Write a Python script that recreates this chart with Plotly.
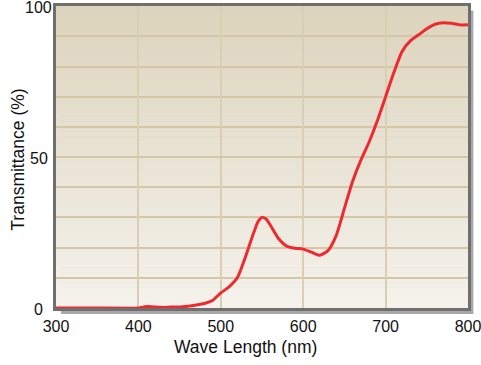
import plotly.graph_objects as go

wavelength = [300, 350, 400, 410, 420, 430, 440, 450, 460, 470, 480, 490, 500, 510, 520,
              530, 540, 545, 550, 555, 560, 570, 580, 590, 600, 610, 620, 630, 640, 650,
              660, 670, 680, 690, 700, 710, 720, 730, 740, 750, 760, 770, 780, 790, 800]
transmittance = [0, 0, 0, 0.5, 0.3, 0.2, 0.3, 0.3, 0.6, 1, 1.5, 2.5, 5, 7, 10,
                 17, 25, 28.5, 30, 29.5, 27.5, 23, 20.5, 19.8, 19.5, 18.5, 17.5, 19, 24, 33,
                 42, 49, 55, 62, 70, 78, 85, 88.5, 90.5, 92.5, 94, 94.5, 94.3, 93.8, 93.8]
x_ticks = [300, 400, 500, 600, 700, 800]
y_ticks = [0, 50, 100]
x_title = "Wave Length (nm)"
y_title = "Transmittance (%)"

fig = go.Figure()
fig.add_trace(go.Scatter(x=wavelength, y=transmittance, mode="lines",
                         line=dict(color="#ee2a30", width=3, shape="spline", smoothing=0.6),
                         hoverinfo="skip", showlegend=False))

shapes = []
# drop shadow
shapes.append(dict(type="rect", xref="paper", yref="paper", x0=0.012, x1=1.013, y0=-0.02, y1=0.985,
                   fillcolor="#a8a8a8", line=dict(width=0), layer="below"))
# vertical gradient background
n = 60
top = (221, 212, 189)
bot = (245, 242, 236)
for i in range(n):
    t = i / (n - 1)
    c = tuple(round(bot[k] + (top[k] - bot[k]) * t) for k in range(3))
    shapes.append(dict(type="rect", xref="paper", yref="paper", x0=0, x1=1,
                       y0=i / n, y1=(i + 1) / n + 0.002,
                       fillcolor="rgb(%d,%d,%d)" % c, line=dict(width=0), layer="below"))

annotations = [
    dict(text=x_title, xref="paper", yref="paper", x=0.46, y=-0.13,
         xanchor="center", yanchor="middle", showarrow=False, font=dict(size=17.5)),
    dict(text=y_title, xref="paper", yref="paper", x=-0.093, y=0.49, textangle=-90,
         xanchor="center", yanchor="middle", showarrow=False, font=dict(size=17.5)),
]
# y tick labels, centred horizontally as in the reference
for v in y_ticks:
    annotations.append(dict(text=str(v), xref="paper", yref="y", x=-0.042, y=v,
                            xanchor="center", yanchor="middle", showarrow=False,
                            yshift=-1, font=dict(size=16)))

fig.update_layout(
    width=481, height=365,
    margin=dict(l=56, r=13, t=6, b=57, autoexpand=False),
    paper_bgcolor="white", plot_bgcolor="rgba(0,0,0,0)",
    shapes=shapes, annotations=annotations,
    font=dict(family="Liberation Sans, Arial, sans-serif", size=16, color="#111111"),
    xaxis=dict(range=[300, 800], tickvals=x_ticks, ticks="", showgrid=True, automargin=False,
               gridcolor="#d9cfb3", gridwidth=1.5, zeroline=False, ticklabeloverflow="allow",
               showline=True, linecolor="#6f6f6f", linewidth=3, mirror=True,
               ticklabelstandoff=2, tickfont=dict(size=16)),
    yaxis=dict(range=[0, 100.05], tickvals=y_ticks, ticks="", showgrid=True, automargin=False,
               showticklabels=False,
               gridcolor="#d4c7a5", gridwidth=1.5, zeroline=False,
               minor=dict(dtick=10, showgrid=True, gridcolor="#d4c7a5", gridwidth=1.5),
               showline=True, linecolor="#6f6f6f", linewidth=3, mirror=True),
)
fig.write_html("out.html", post_script="document.body.style.margin='0';",
               config={"displayModeBar": False})
